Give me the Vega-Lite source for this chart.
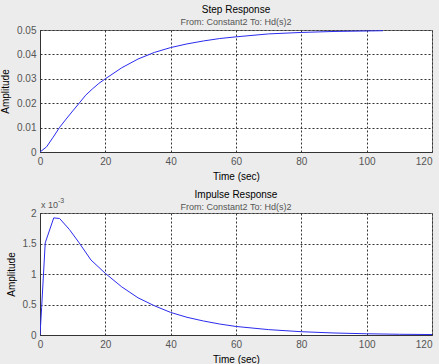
{
  "$schema": "https://vega.github.io/schema/vega-lite/v6.json",
  "background": "#ECECEC",
  "padding": {"left": 0, "top": 4, "right": 7, "bottom": 2},
  "spacing": 7,
  "config": {
    "font": "Liberation Sans",
    "view": {"stroke": "#777777", "strokeWidth": 1, "fill": "white"},
    "axis": {
      "grid": true, "gridDash": [2, 2], "gridColor": "#333333", "gridOpacity": 1, "gridWidth": 1,
      "domainColor": "#333333", "ticks": false, "labelPadding": 4, "labelOverlap": false,
      "labelFont": "Liberation Sans", "labelFontSize": 10, "labelColor": "#555555",
      "titleFont": "Liberation Sans", "titleFontSize": 10, "titleFontWeight": "normal", "titleColor": "#000000"
    },
    "axisX": {"titlePadding": 5, "labelFlush": false,
              "labelAlign": {"condition": {"test": "datum.value == 120", "value": "right"}, "value": "center"}},
    "axisY": {"titlePadding": 6},
    "title": {
      "font": "Liberation Sans", "fontSize": 10, "fontWeight": "normal", "color": "#000000",
      "subtitleFont": "Liberation Sans", "subtitleFontSize": 9, "subtitleColor": "#555555",
      "anchor": "middle", "offset": -2, "subtitlePadding": 3, "frame": "group"
    }
  },
  "vconcat": [
    {
      "title": {"text": "Step Response", "subtitle": "From: Constant2  To: Hd(s)2"},
      "width": 392,
      "height": 122,
      "data": {"values": [
        {"t": 0, "amp": 0},
        {"t": 2, "amp": 0.0021},
        {"t": 4, "amp": 0.006},
        {"t": 6, "amp": 0.0101},
        {"t": 8, "amp": 0.0135},
        {"t": 10, "amp": 0.0168},
        {"t": 12, "amp": 0.02},
        {"t": 14, "amp": 0.0233},
        {"t": 16, "amp": 0.0258},
        {"t": 18, "amp": 0.0281},
        {"t": 20, "amp": 0.03},
        {"t": 25, "amp": 0.0345},
        {"t": 30, "amp": 0.0381},
        {"t": 35, "amp": 0.0408},
        {"t": 40, "amp": 0.0428},
        {"t": 45, "amp": 0.0443},
        {"t": 50, "amp": 0.0455},
        {"t": 55, "amp": 0.0465},
        {"t": 60, "amp": 0.0472},
        {"t": 70, "amp": 0.0484},
        {"t": 80, "amp": 0.049},
        {"t": 90, "amp": 0.0494},
        {"t": 100, "amp": 0.0496},
        {"t": 105, "amp": 0.0497}
      ]},
      "mark": {"type": "line", "color": "#2B2BEE", "strokeWidth": 1, "clip": true},
      "encoding": {
        "x": {"field": "t", "type": "quantitative", "scale": {"domain": [0, 120], "nice": false},
              "axis": {"title": "Time (sec)", "values": [0, 20, 40, 60, 80, 100, 120]}},
        "y": {"field": "amp", "type": "quantitative", "scale": {"domain": [0, 0.05], "nice": false},
              "axis": {"title": "Amplitude", "values": [0, 0.01, 0.02, 0.03, 0.04, 0.05], "format": "~g"}}
      }
    },
    {
      "title": {"text": "Impulse Response", "subtitle": "From: Constant2  To: Hd(s)2", "offset": -15},
      "width": 392,
      "height": 122,
      "layer": [
        {
          "data": {"values": [
            {"t": 0, "amp": 0},
            {"t": 0.5, "amp": 0.00045},
            {"t": 1.6, "amp": 0.00151},
            {"t": 4.2, "amp": 0.00192},
            {"t": 6, "amp": 0.00191},
            {"t": 9, "amp": 0.00173},
            {"t": 12, "amp": 0.00151},
            {"t": 15.6, "amp": 0.00123},
            {"t": 20, "amp": 0.00101},
            {"t": 25, "amp": 0.00079},
            {"t": 30, "amp": 0.00061},
            {"t": 35, "amp": 0.00048},
            {"t": 40, "amp": 0.00037},
            {"t": 45, "amp": 0.00029},
            {"t": 50, "amp": 0.00023},
            {"t": 55, "amp": 0.00018},
            {"t": 60, "amp": 0.00014},
            {"t": 70, "amp": 0.000088},
            {"t": 80, "amp": 0.000054},
            {"t": 90, "amp": 0.000033},
            {"t": 100, "amp": 0.00002},
            {"t": 110, "amp": 0.000012},
            {"t": 120, "amp": 0.0000075}
          ]},
          "mark": {"type": "line", "color": "#2B2BEE", "strokeWidth": 1, "clip": true},
          "encoding": {
            "x": {"field": "t", "type": "quantitative", "scale": {"domain": [0, 120], "nice": false},
                  "axis": {"title": "Time (sec)", "values": [0, 20, 40, 60, 80, 100, 120]}},
            "y": {"field": "amp", "type": "quantitative", "scale": {"domain": [0, 0.002], "nice": false},
                  "axis": {"title": "Amplitude", "values": [0, 0.0005, 0.001, 0.0015, 0.002],
                           "labelExpr": "format(datum.value * 1000, '~g')"}}
          }
        },
        {
          "data": {"values": [{}]},
          "mark": {"type": "text", "text": "x 10", "align": "left", "baseline": "alphabetic", "dx": 1, "dy": -5, "fontSize": 9, "color": "#555555", "font": "Liberation Sans"},
          "encoding": {
            "x": {"datum": 0, "type": "quantitative",
                  "axis": {"title": "Time (sec)", "values": [0, 20, 40, 60, 80, 100, 120]}},
            "y": {"datum": 0.002, "type": "quantitative",
                  "axis": {"title": "Amplitude", "values": [0, 0.0005, 0.001, 0.0015, 0.002],
                           "labelExpr": "format(datum.value * 1000, '~g')"}}
          }
        },
        {
          "data": {"values": [{}]},
          "mark": {"type": "text", "text": "-3", "align": "left", "baseline": "alphabetic", "dx": 18, "dy": -10, "fontSize": 7, "color": "#555555", "font": "Liberation Sans"},
          "encoding": {
            "x": {"datum": 0, "type": "quantitative",
                  "axis": {"title": "Time (sec)", "values": [0, 20, 40, 60, 80, 100, 120]}},
            "y": {"datum": 0.002, "type": "quantitative",
                  "axis": {"title": "Amplitude", "values": [0, 0.0005, 0.001, 0.0015, 0.002],
                           "labelExpr": "format(datum.value * 1000, '~g')"}}
          }
        }
      ]
    }
  ]
}
